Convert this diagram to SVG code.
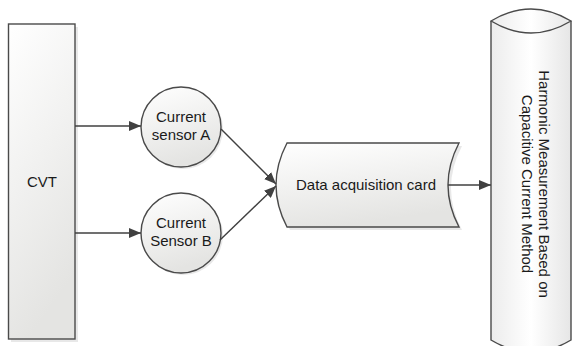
<svg xmlns="http://www.w3.org/2000/svg" width="572" height="346" viewBox="0 0 572 346">
<defs>
<linearGradient id="g" x1="0" y1="0" x2="0.3" y2="1">
<stop offset="0" stop-color="#ffffff"/>
<stop offset="1" stop-color="#e4e4e2"/>
</linearGradient>
<linearGradient id="gc" x1="0" y1="0" x2="1" y2="0">
<stop offset="0" stop-color="#ececec"/>
<stop offset="0.5" stop-color="#ffffff"/>
<stop offset="1" stop-color="#e6e6e6"/>
</linearGradient>
<marker id="ah" markerWidth="12" markerHeight="10" refX="12" refY="5" orient="auto" markerUnits="userSpaceOnUse">
<path d="M0,0 L12,5 L0,10 Z" fill="#404040"/>
</marker>
</defs>
<style>
.shape{stroke:#4a4a4a;stroke-width:1.4;fill:url(#g)}
.shadow{fill:#d8d8d8;opacity:0.6}
.conn{stroke:#404040;stroke-width:1.4;fill:none;marker-end:url(#ah)}
text{font-family:"Liberation Sans",Arial,sans-serif;font-size:15px;fill:#1a1a1a;text-anchor:middle}
</style>
<rect width="572" height="346" fill="#ffffff"/>
<g id="cvt">
<rect class="shadow" x="11" y="27" width="67" height="315"/>
<rect class="shape" x="8.5" y="24" width="66.5" height="315"/>
<text x="42" y="187">CVT</text>
</g>
<g id="sensorA">
<circle class="shadow" cx="183" cy="129" r="40"/>
<circle class="shape" cx="181" cy="127" r="40"/>
<text x="181" y="122">Current</text>
<text x="181" y="140">sensor A</text>
</g>
<g id="sensorB">
<circle class="shadow" cx="183" cy="235" r="40"/>
<circle class="shape" cx="181" cy="233" r="40"/>
<text x="181" y="228">Current</text>
<text x="181" y="246">Sensor B</text>
</g>
<g id="daq">
<path class="shadow" d="M290,146 L462,146 Q440,188 462,230 L290,230 Q268,188 290,146 Z"/>
<path class="shape" d="M287,143 L459,143 Q437,185 459,227 L287,227 Q265,185 287,143 Z"/>
<text x="366" y="190">Data acquisition card</text>
</g>
<g id="hm">
<path class="shape" style="fill:url(#gc)" d="M491,21 L491,340 Q531,364 571,340 L571,21"/>
<path class="shape" style="fill:url(#gc)" d="M491,21 Q531,-3 571,21 Q531,45 491,21 Z"/>
<g transform="translate(536,184) rotate(90)">
<text x="0" y="-3">Harmonic Measurement Based on</text>
<text x="0" y="14">Capacitive Current Method</text>
</g>
</g>
<g id="connectors">
<line class="conn" x1="75" y1="126" x2="141" y2="126"/>
<line class="conn" x1="75" y1="233" x2="141" y2="233"/>
<line class="conn" x1="221" y1="129" x2="276" y2="184"/>
<line class="conn" x1="220" y1="240" x2="276" y2="186"/>
<line class="conn" x1="448" y1="185" x2="491" y2="185"/>
</g>
</svg>
